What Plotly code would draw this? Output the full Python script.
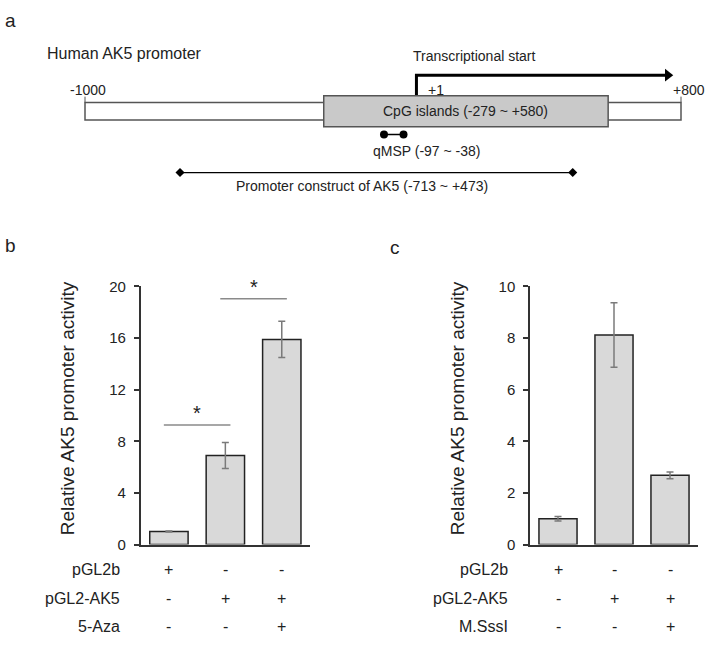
import plotly.graph_objects as go

# ---------------- data ----------------
# panel a: promoter map (genomic coordinates relative to TSS)
promoter_span = [-1000, 800]
cpg_island = [-279, 580]
qmsp_region = [-97, -38]
construct_region = [-713, 473]
tss = 1
arrow_end = 760

# panel b
b_values = [1.0, 6.9, 15.9]
b_errors = [0.04, 1.0, 1.4]
b_rows = ["pGL2b", "pGL2-AK5", "5-Aza"]
b_table = [["+", "-", "-"], ["-", "+", "+"], ["-", "-", "+"]]
b_sig = [(0, 1, 9.26), (1, 2, 19.04)]

# panel c
c_values = [1.0, 8.12, 2.68]
c_errors = [0.09, 1.25, 0.13]
c_rows = ["pGL2b", "pGL2-AK5", "M.SssI"]
c_table = [["+", "-", "-"], ["-", "+", "+"], ["-", "-", "+"]]
c_sig = [(1, 2, 10.12)]

W, H = 708, 645
FONT = "Liberation Sans, Arial, sans-serif"
DARK = "#222222"

def px(v):  # pixel x -> paper
    return v / W

def py(v):  # pixel y (from top) -> paper
    return 1 - v / H

fig = go.Figure()

# ---------- panel a (schematic) ----------
xa_left_px, xa_right_px = 85, 681
scale = (xa_right_px - xa_left_px) / (promoter_span[1] - promoter_span[0])
x3_range = [promoter_span[0] - xa_left_px / scale, promoter_span[1] + (W - xa_right_px) / scale]

LANE_BAR = (96, 114)
LANE_CPG = (89, 121)
LANE_ARROW = 68
LANE_QMSP = 129
LANE_CONSTRUCT = 168

shapes = []
shapes.append(dict(type="rect", xref="x3", yref="y3", x0=promoter_span[0], x1=promoter_span[1],
                   y0=LANE_BAR[0], y1=LANE_BAR[1], fillcolor="white",
                   line=dict(color="#555555", width=1.5), layer="below"))
for xv in promoter_span:
    shapes.append(dict(type="line", xref="x3", yref="y3", x0=xv, x1=xv, y0=LANE_BAR[0] - 6,
                       y1=LANE_BAR[0], line=dict(color="#555555", width=1)))
shapes.append(dict(type="rect", xref="x3", yref="y3", x0=cpg_island[0], x1=cpg_island[1],
                   y0=LANE_CPG[0], y1=LANE_CPG[1], fillcolor="#c9c9c9",
                   line=dict(color="#555555", width=1.5)))

fig.add_trace(go.Scatter(x=[tss, tss, arrow_end], y=[LANE_CPG[0], LANE_ARROW, LANE_ARROW],
                         xaxis="x3", yaxis="y3", mode="lines",
                         line=dict(color="black", width=3), hoverinfo="skip", showlegend=False))
fig.add_trace(go.Scatter(x=[arrow_end], y=[LANE_ARROW], xaxis="x3", yaxis="y3", mode="markers",
                         marker=dict(symbol="triangle-right", size=11, color="black"),
                         hoverinfo="skip", showlegend=False))
fig.add_trace(go.Scatter(x=qmsp_region, y=[LANE_QMSP] * 2, xaxis="x3", yaxis="y3",
                         mode="lines+markers", line=dict(color="black", width=1.5),
                         marker=dict(symbol="circle", size=8, color="black"),
                         hoverinfo="skip", showlegend=False))
fig.add_trace(go.Scatter(x=construct_region, y=[LANE_CONSTRUCT] * 2, xaxis="x3", yaxis="y3",
                         mode="lines+markers", line=dict(color="black", width=1.2),
                         marker=dict(symbol="diamond", size=7, color="black"),
                         hoverinfo="skip", showlegend=False))

ann = []
def txt(x, y, s, size=14, xanchor="center", yanchor="middle", xref="paper", yref="paper",
        xshift=0, yshift=0, color=DARK, angle=0):
    ann.append(dict(x=x, y=y, text=s, xref=xref, yref=yref, showarrow=False,
                    font=dict(family=FONT, size=size, color=color), xanchor=xanchor,
                    yanchor=yanchor, xshift=xshift, yshift=yshift, textangle=angle))

txt(px(10), py(12), "a", size=19)
txt(px(45), py(46), "Human AK5 promoter", size=16, xanchor="left")
txt(tss, 48, "Transcriptional start", xref="x3", yref="y3", xanchor="left", xshift=-5)
txt(promoter_span[0], 83, "-1000", xref="x3", yref="y3", xshift=3)
txt(promoter_span[1], 83, "+800", xref="x3", yref="y3", xshift=8)
txt(tss, 83, "+1", xref="x3", yref="y3", xanchor="left", xshift=10)
txt((cpg_island[0] + cpg_island[1]) / 2, 105,
    f"CpG islands ({cpg_island[0]} ~ +{cpg_island[1]})", xref="x3", yref="y3")
txt(qmsp_region[0], 146, f"qMSP ({qmsp_region[0]} ~ {qmsp_region[1]})", xref="x3", yref="y3",
    xanchor="left", xshift=-13)
txt((construct_region[0] + construct_region[1]) / 2, 182,
    f"Promoter construct of AK5 ({construct_region[0]} ~ +{construct_region[1]})",
    xref="x3", yref="y3", xshift=-14)

# ---------- bar panels ----------
def bar_panel(xa, ya, values, errors, rows, table, sig, row_label_px, title_px, letter, letter_px):
    cats = [0, 1, 2]
    fig.add_trace(go.Bar(x=cats, y=values, xaxis=xa, yaxis=ya, width=0.68,
                         marker=dict(color="#d9d9d9", line=dict(color=DARK, width=1.5)),
                         error_y=dict(type="data", array=errors, visible=True, color="#7a7a7a",
                                      thickness=1.5, width=3.5),
                         hoverinfo="skip", showlegend=False))
    for (i, j, h) in sig:
        fig.add_trace(go.Scatter(x=[i - 0.09, j + 0.09], y=[h, h], xaxis=xa, yaxis=ya, mode="lines",
                                 line=dict(color="#8a8a8a", width=1.5), cliponaxis=False,
                                 hoverinfo="skip", showlegend=False))
        txt((i + j) / 2, h, "*", size=20, xref=xa, yref=ya, yanchor="middle", yshift=12)
    row_y = [575.7, 605, 634]
    for r, lab in enumerate(rows):
        txt(px(row_label_px), py(row_y[r]), lab, size=16, xanchor="right")
        for k, sym in enumerate(table[r]):
            txt(cats[k], py(row_y[r]), sym, size=16, xref=xa, yref="paper")
    txt(px(title_px), py(410), "Relative AK5 promoter activity", size=19, angle=-90)
    txt(px(letter_px[0]), py(letter_px[1]), letter, size=19)

bar_panel("x", "y", b_values, b_errors, b_rows, b_table, b_sig, 122, 67, "b", (10, 243))
bar_panel("x2", "y2", c_values, c_errors, c_rows, c_table, c_sig, 510, 457, "c", (395, 245))

ydom = [py(550), py(285)]
axis_common = dict(showgrid=False, zeroline=False, showline=True, linecolor="#333333", linewidth=1.5)
ytick_common = dict(ticks="outside", ticklen=5, tickwidth=1.5, tickcolor="#333333",
                    ticklabelstandoff=5, tickfont=dict(family=FONT, size=15, color=DARK))
fig.update_layout(
    width=W, height=H, margin=dict(l=0, r=0, t=0, b=0),
    paper_bgcolor="white", plot_bgcolor="white",
    font=dict(family=FONT, color=DARK),
    xaxis=dict(domain=[px(140.7), px(310)], range=[-0.5, 2.5], anchor="y",
               showticklabels=False, ticks="", **axis_common),
    yaxis=dict(domain=ydom, range=[0, 20], anchor="x", tickvals=[0, 4, 8, 12, 16, 20],
               **ytick_common, **axis_common),
    xaxis2=dict(domain=[px(530), px(698)], range=[-0.5, 2.5], anchor="y2",
                showticklabels=False, ticks="", **axis_common),
    yaxis2=dict(domain=ydom, range=[0, 10], anchor="x2", tickvals=[0, 2, 4, 6, 8, 10],
                **ytick_common, **axis_common),
    xaxis3=dict(domain=[0, 1], range=x3_range, anchor="y3", visible=False),
    yaxis3=dict(domain=[py(200), 1], range=[200, 0], anchor="x3", visible=False),
    shapes=shapes, annotations=ann,
)

post = (
    "var h=document.documentElement,b=document.body;"
    "h.style.margin='0';h.style.padding='0';h.style.overflow='hidden';"
    "b.style.margin='0';b.style.padding='0';b.style.overflow='hidden';"
)
fig.write_html("out.html", config={"displayModeBar": False}, post_script=post)
